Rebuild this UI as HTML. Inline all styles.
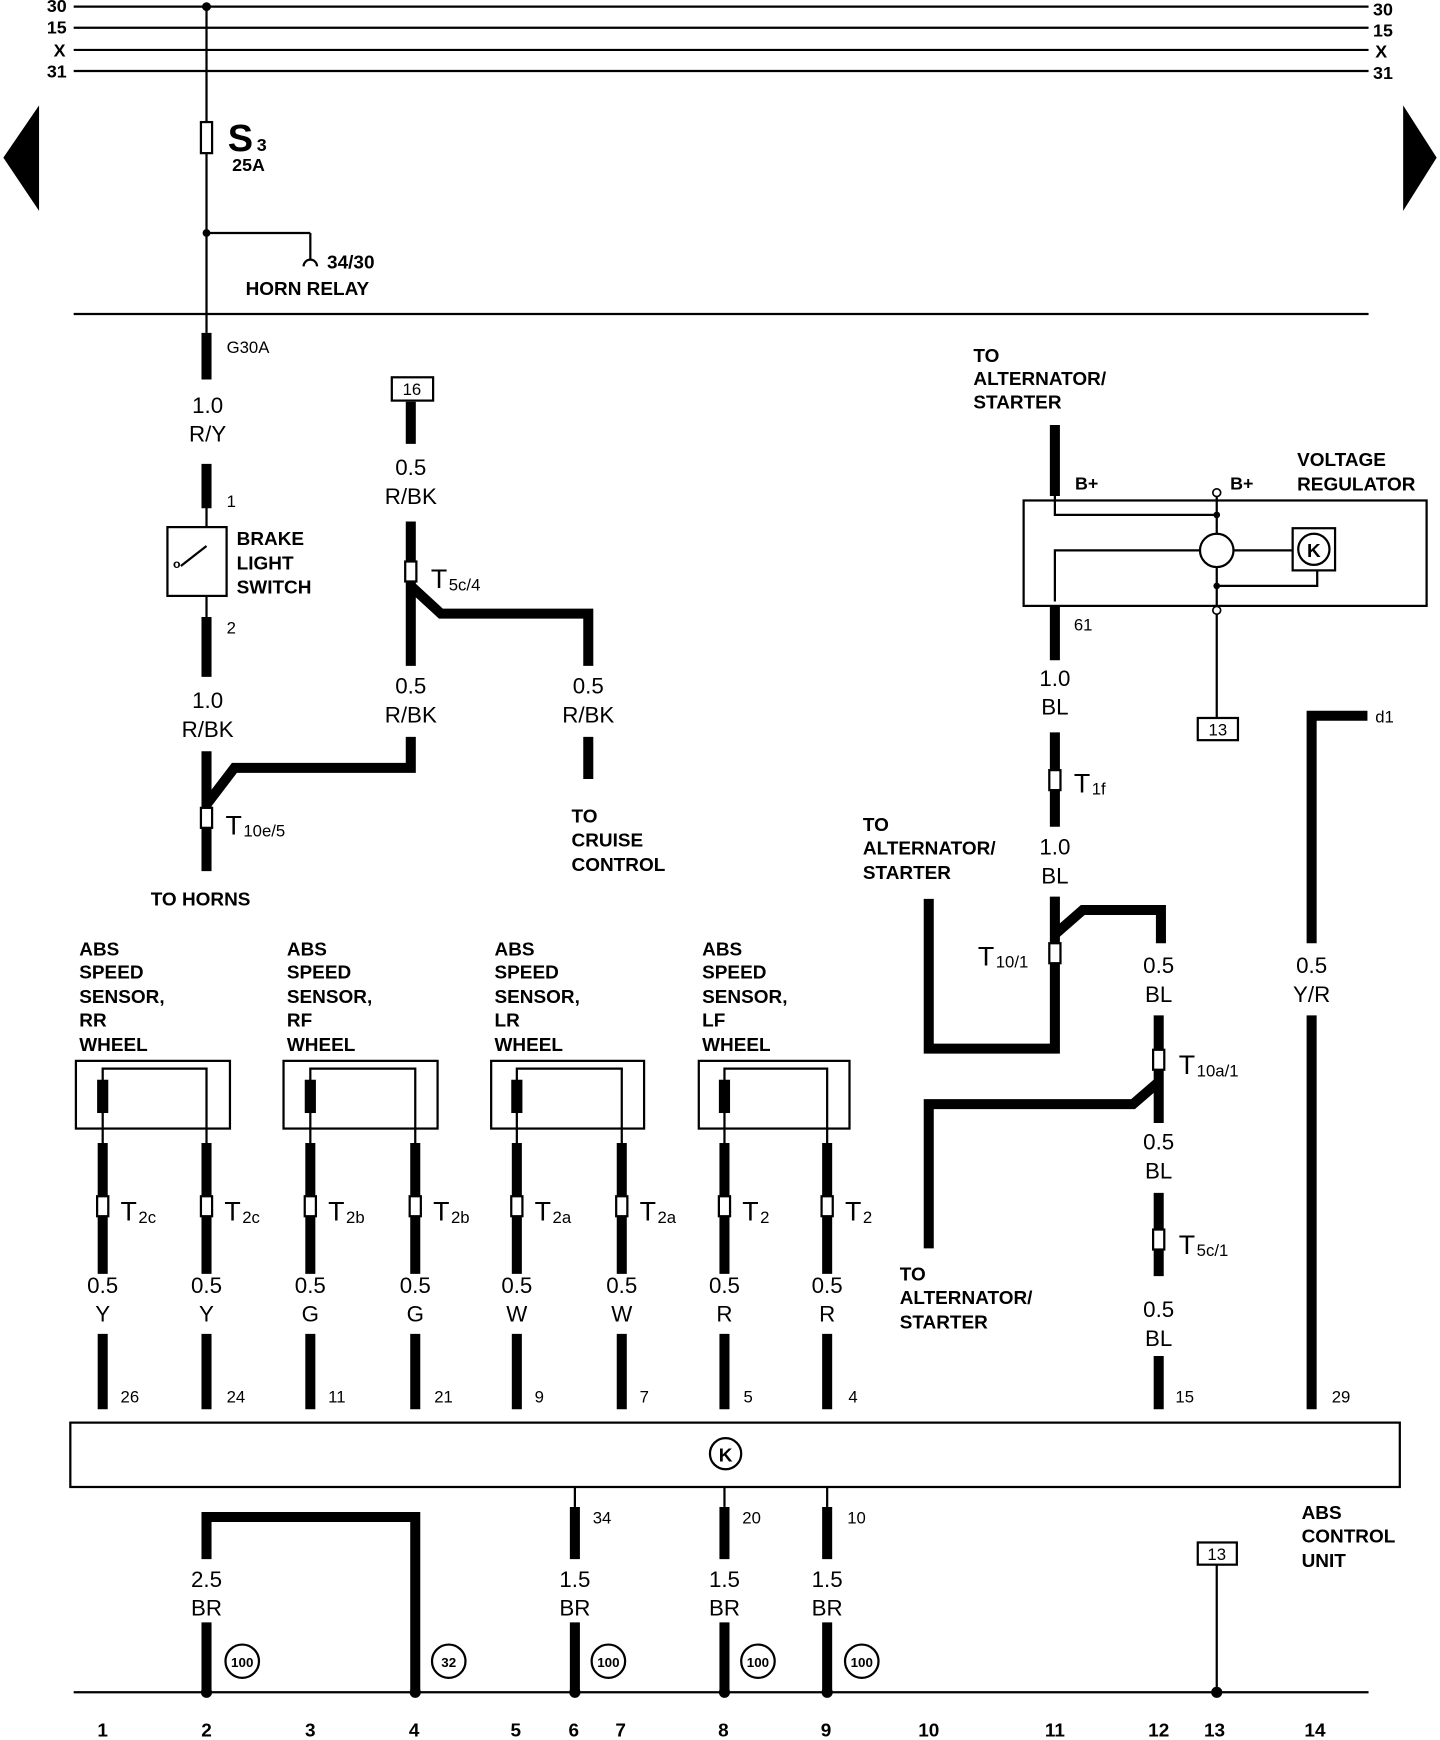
<!DOCTYPE html>
<html><head><meta charset="utf-8"><style>
html,body{margin:0;padding:0;background:#fff;}
svg{display:block;}
text{font-family:"Liberation Sans",sans-serif;fill:#000;}
.b{font-weight:bold;font-size:17px;}
.w{font-size:20px;text-anchor:middle;}
.s{font-size:16px;font-weight:bold;}
.t{font-size:24px;}
.ts{font-size:15px;}
.th{stroke:#000;stroke-width:9;fill:none;}
.tn{stroke:#000;stroke-width:2;fill:none;}
</style></head><body>
<svg width="1440" height="1740" viewBox="0 0 1290 1568" preserveAspectRatio="none" xmlns="http://www.w3.org/2000/svg">
<!-- bus lines -->
<g class="tn" stroke-width="3">
<line x1="66" y1="6" x2="1226" y2="6"/><line x1="66" y1="25" x2="1226" y2="25"/>
<line x1="66" y1="45" x2="1226" y2="45"/><line x1="66" y1="64" x2="1226" y2="64"/>
<line x1="66" y1="283" x2="1226" y2="283"/>
<line x1="66" y1="1525" x2="1226" y2="1525"/>
</g>
<g class="s"><text x="42" y="11">30</text><text x="42" y="30">15</text><text x="48" y="51">X</text><text x="42" y="70">31</text>
<text x="1230" y="14">30</text><text x="1230" y="33">15</text><text x="1232" y="52">X</text><text x="1230" y="71">31</text></g>
<polygon points="3,142 35,95 35,190"/><polygon points="1257,95 1257,190 1287,142"/>
<!-- main vertical -->
<g class="tn" stroke-width="2.5">
<line x1="185" y1="6" x2="185" y2="300"/>
<line x1="185" y1="210" x2="278" y2="210"/><line x1="278" y1="210" x2="278" y2="234"/>
<path d="M272,240 a6,6 0 0 1 12,0"/>
<line x1="185" y1="455" x2="185" y2="560"/>
</g>
<circle cx="185" cy="6" r="4"/><circle cx="185" cy="210" r="3.5"/>
<rect x="180" y="110" width="10" height="28" fill="#fff" stroke="#000" stroke-width="2"/>
<text x="204" y="136" style="font-size:34px;font-weight:bold">S</text><text x="230" y="136" class="s">3</text>
<text x="208" y="154" class="s">25A</text>
<text x="293" y="242" class="b">34/30</text><text x="220" y="266" class="b">HORN RELAY</text>
<!-- left wire -->
<g class="th"><line x1="185" y1="300" x2="185" y2="342"/><line x1="185" y1="418" x2="185" y2="458"/>
<line x1="185" y1="556" x2="185" y2="610"/><line x1="185" y1="677" x2="185" y2="785"/>
<polyline points="185,725 210,692 368,692 368,664"/></g>
<text x="203" y="318" class="ts">G30A</text>
<text x="186" y="372" class="w">1.0</text><text x="186" y="398" class="w">R/Y</text>
<text x="203" y="457" class="ts">1</text><text x="203" y="571" class="ts">2</text>
<rect x="150" y="475" width="53" height="62" fill="#fff" stroke="#000" stroke-width="2"/>
<line x1="162" y1="510" x2="185" y2="492" stroke="#000" stroke-width="2"/>
<text x="155" y="512" style="font-size:11px;font-weight:bold">o</text>
<text x="212" y="491" class="b">BRAKE</text><text x="212" y="513" class="b">LIGHT</text><text x="212" y="535" class="b">SWITCH</text>
<text x="186" y="638" class="w">1.0</text><text x="186" y="664" class="w">R/BK</text>
<rect x="180" y="728" width="10" height="18" fill="#fff" stroke="#000" stroke-width="2"/>
<text x="202" y="752" class="t">T</text><text x="218" y="754" class="ts">10e/5</text>
<text x="135" y="816" class="b">TO HORNS</text>
<!-- 16 branch -->
<rect x="351" y="340" width="37" height="21" fill="#fff" stroke="#000" stroke-width="2"/><text x="369" y="356" class="ts" text-anchor="middle">16</text>
<g class="th"><line x1="368" y1="362" x2="368" y2="400"/><line x1="368" y1="470" x2="368" y2="600"/>
<polyline points="368,528 395,553 527,553 527,600"/>
<line x1="527" y1="664" x2="527" y2="702"/></g>
<text x="368" y="428" class="w">0.5</text><text x="368" y="454" class="w">R/BK</text>
<rect x="363" y="506" width="10" height="18" fill="#fff" stroke="#000" stroke-width="2"/>
<text x="386" y="530" class="t">T</text><text x="402" y="532" class="ts">5c/4</text>
<text x="368" y="625" class="w">0.5</text><text x="368" y="651" class="w">R/BK</text>
<text x="527" y="625" class="w">0.5</text><text x="527" y="651" class="w">R/BK</text>
<text x="512" y="741" class="b">TO</text><text x="512" y="763" class="b">CRUISE</text><text x="512" y="785" class="b">CONTROL</text>
<!-- voltage regulator -->
<text x="872" y="326" class="b">TO</text><text x="872" y="347" class="b">ALTERNATOR/</text><text x="872" y="368" class="b">STARTER</text>
<text x="1162" y="420" class="b">VOLTAGE</text><text x="1162" y="442" class="b">REGULATOR</text>
<rect x="917" y="451" width="361" height="95" fill="none" stroke="#000" stroke-width="2"/>
<g class="tn"><polyline points="945,447 945,464 1090,464"/><line x1="1090" y1="447" x2="1090" y2="548"/>
<polyline points="945,542 945,496 1075,496"/><line x1="1105" y1="496" x2="1158" y2="496"/>
<polyline points="1090,528 1180,528 1180,515"/><line x1="1090" y1="548" x2="1090" y2="647"/></g>
<circle cx="1090" cy="444" r="3.5" fill="#fff" stroke="#000" stroke-width="1.5"/>
<circle cx="1090" cy="550" r="3.5" fill="#fff" stroke="#000" stroke-width="1.5"/>
<circle cx="1090" cy="464" r="3"/><circle cx="1090" cy="528" r="3"/>
<circle cx="1090" cy="496" r="15" fill="#fff" stroke="#000" stroke-width="2"/>
<rect x="1158" y="476" width="38" height="38" fill="#fff" stroke="#000" stroke-width="2"/>
<circle cx="1177" cy="495" r="14" fill="none" stroke="#000" stroke-width="2"/><text x="1177" y="502" class="b" text-anchor="middle">K</text>
<text x="963" y="441" class="s">B+</text><text x="1102" y="441" class="s">B+</text>
<rect x="1073" y="647" width="36" height="20" fill="#fff" stroke="#000" stroke-width="2"/><text x="1091" y="663" class="ts" text-anchor="middle">13</text>
<g class="th"><line x1="945" y1="383" x2="945" y2="447"/><line x1="945" y1="546" x2="945" y2="595"/>
<line x1="945" y1="660" x2="945" y2="745"/>
<polyline points="945,808 945,945 832,945 832,810"/>
<polyline points="945,842 970,820 1040,820 1040,850"/>
<line x1="1038" y1="915" x2="1038" y2="1012"/>
<polyline points="1038,975 1015,995 832,995 832,1125"/>
<line x1="1038" y1="1075" x2="1038" y2="1150"/><line x1="1038" y1="1222" x2="1038" y2="1270"/>
<polyline points="1225,645 1175,645 1175,850"/><line x1="1175" y1="915" x2="1175" y2="1270"/></g>
<text x="962" y="568" class="ts">61</text>
<text x="945" y="618" class="w">1.0</text><text x="945" y="644" class="w">BL</text>
<rect x="940" y="694" width="10" height="18" fill="#fff" stroke="#000" stroke-width="2"/>
<text x="962" y="714" class="t">T</text><text x="978" y="716" class="ts">1f</text>
<text x="945" y="770" class="w">1.0</text><text x="945" y="796" class="w">BL</text>
<text x="773" y="749" class="b">TO</text><text x="773" y="770" class="b">ALTERNATOR/</text><text x="773" y="792" class="b">STARTER</text>
<rect x="940" y="850" width="10" height="18" fill="#fff" stroke="#000" stroke-width="2"/>
<text x="876" y="870" class="t">T</text><text x="892" y="872" class="ts">10/1</text>
<text x="1038" y="877" class="w">0.5</text><text x="1038" y="903" class="w">BL</text>
<rect x="1033" y="946" width="10" height="18" fill="#fff" stroke="#000" stroke-width="2"/>
<text x="1056" y="968" class="t">T</text><text x="1072" y="970" class="ts">10a/1</text>
<text x="1038" y="1036" class="w">0.5</text><text x="1038" y="1062" class="w">BL</text>
<rect x="1033" y="1108" width="10" height="18" fill="#fff" stroke="#000" stroke-width="2"/>
<text x="1056" y="1130" class="t">T</text><text x="1072" y="1132" class="ts">5c/1</text>
<text x="1038" y="1187" class="w">0.5</text><text x="1038" y="1213" class="w">BL</text>
<text x="806" y="1154" class="b">TO</text><text x="806" y="1175" class="b">ALTERNATOR/</text><text x="806" y="1197" class="b">STARTER</text>
<text x="1232" y="651" class="ts">d1</text>
<text x="1175" y="877" class="w">0.5</text><text x="1175" y="903" class="w">Y/R</text>
<text x="1053" y="1264" class="ts">15</text><text x="1193" y="1264" class="ts">29</text>
<!-- ABS sensors -->
<g class="b">
<text x="71" y="861">ABS</text><text x="71" y="882">SPEED</text><text x="71" y="904">SENSOR,</text><text x="71" y="925">RR</text><text x="71" y="947">WHEEL</text>
<text x="257" y="861">ABS</text><text x="257" y="882">SPEED</text><text x="257" y="904">SENSOR,</text><text x="257" y="925">RF</text><text x="257" y="947">WHEEL</text>
<text x="443" y="861">ABS</text><text x="443" y="882">SPEED</text><text x="443" y="904">SENSOR,</text><text x="443" y="925">LR</text><text x="443" y="947">WHEEL</text>
<text x="629" y="861">ABS</text><text x="629" y="882">SPEED</text><text x="629" y="904">SENSOR,</text><text x="629" y="925">LF</text><text x="629" y="947">WHEEL</text>
</g>
<g fill="none" stroke="#000" stroke-width="2">
<rect x="68" y="956" width="138" height="61"/><rect x="254" y="956" width="138" height="61"/>
<rect x="440" y="956" width="137" height="61"/><rect x="626" y="956" width="135" height="61"/>
<polyline points="92,1030 92,963 185,963 185,1030"/><polyline points="278,1030 278,963 372,963 372,1030"/>
<polyline points="463,1030 463,963 557,963 557,1030"/><polyline points="649,1030 649,963 741,963 741,1030"/>
</g>
<g><rect x="87" y="973" width="10" height="30"/><rect x="273" y="973" width="10" height="30"/><rect x="458" y="973" width="10" height="30"/><rect x="644" y="973" width="10" height="30"/></g>
<g class="th">
<line x1="92" y1="1030" x2="92" y2="1148"/><line x1="185" y1="1030" x2="185" y2="1148"/>
<line x1="278" y1="1030" x2="278" y2="1148"/><line x1="372" y1="1030" x2="372" y2="1148"/>
<line x1="463" y1="1030" x2="463" y2="1148"/><line x1="557" y1="1030" x2="557" y2="1148"/>
<line x1="649" y1="1030" x2="649" y2="1148"/><line x1="741" y1="1030" x2="741" y2="1148"/>
<line x1="92" y1="1202" x2="92" y2="1270"/><line x1="185" y1="1202" x2="185" y2="1270"/>
<line x1="278" y1="1202" x2="278" y2="1270"/><line x1="372" y1="1202" x2="372" y2="1270"/>
<line x1="463" y1="1202" x2="463" y2="1270"/><line x1="557" y1="1202" x2="557" y2="1270"/>
<line x1="649" y1="1202" x2="649" y2="1270"/><line x1="741" y1="1202" x2="741" y2="1270"/>
</g>
<g fill="#fff" stroke="#000" stroke-width="2">
<rect x="87" y="1078" width="10" height="18"/><rect x="180" y="1078" width="10" height="18"/>
<rect x="273" y="1078" width="10" height="18"/><rect x="367" y="1078" width="10" height="18"/>
<rect x="458" y="1078" width="10" height="18"/><rect x="552" y="1078" width="10" height="18"/>
<rect x="644" y="1078" width="10" height="18"/><rect x="736" y="1078" width="10" height="18"/>
</g>
<g><text x="108" y="1100" class="t">T</text><text x="124" y="1102" class="ts">2c</text>
<text x="201" y="1100" class="t">T</text><text x="217" y="1102" class="ts">2c</text>
<text x="294" y="1100" class="t">T</text><text x="310" y="1102" class="ts">2b</text>
<text x="388" y="1100" class="t">T</text><text x="404" y="1102" class="ts">2b</text>
<text x="479" y="1100" class="t">T</text><text x="495" y="1102" class="ts">2a</text>
<text x="573" y="1100" class="t">T</text><text x="589" y="1102" class="ts">2a</text>
<text x="665" y="1100" class="t">T</text><text x="681" y="1102" class="ts">2</text>
<text x="757" y="1100" class="t">T</text><text x="773" y="1102" class="ts">2</text></g>
<g class="w">
<text x="92" y="1165">0.5</text><text x="92" y="1191">Y</text><text x="185" y="1165">0.5</text><text x="185" y="1191">Y</text>
<text x="278" y="1165">0.5</text><text x="278" y="1191">G</text><text x="372" y="1165">0.5</text><text x="372" y="1191">G</text>
<text x="463" y="1165">0.5</text><text x="463" y="1191">W</text><text x="557" y="1165">0.5</text><text x="557" y="1191">W</text>
<text x="649" y="1165">0.5</text><text x="649" y="1191">R</text><text x="741" y="1165">0.5</text><text x="741" y="1191">R</text>
</g>
<g class="ts"><text x="108" y="1264">26</text><text x="203" y="1264">24</text><text x="294" y="1264">11</text><text x="389" y="1264">21</text>
<text x="479" y="1264">9</text><text x="573" y="1264">7</text><text x="666" y="1264">5</text><text x="760" y="1264">4</text></g>
<!-- control unit -->
<rect x="63" y="1282" width="1191" height="58" fill="#fff" stroke="#000" stroke-width="2"/>
<circle cx="650" cy="1310" r="14" fill="none" stroke="#000" stroke-width="2"/><text x="650" y="1317" class="b" text-anchor="middle">K</text>
<text x="1166" y="1369" class="b">ABS</text><text x="1166" y="1390" class="b">CONTROL</text><text x="1166" y="1412" class="b">UNIT</text>
<g class="tn"><line x1="515" y1="1340" x2="515" y2="1358"/><line x1="649" y1="1340" x2="649" y2="1358"/><line x1="741" y1="1340" x2="741" y2="1358"/>
<line x1="1090" y1="1410" x2="1090" y2="1525"/></g>
<g class="th">
<line x1="515" y1="1358" x2="515" y2="1405"/><line x1="649" y1="1358" x2="649" y2="1405"/><line x1="741" y1="1358" x2="741" y2="1405"/>
<line x1="515" y1="1462" x2="515" y2="1525"/><line x1="649" y1="1462" x2="649" y2="1525"/><line x1="741" y1="1462" x2="741" y2="1525"/>
<polyline points="185,1405 185,1367 372,1367 372,1525"/><line x1="185" y1="1462" x2="185" y2="1525"/>
</g>
<g class="ts"><text x="531" y="1373">34</text><text x="665" y="1373">20</text><text x="759" y="1373">10</text></g>
<g class="w"><text x="185" y="1430">2.5</text><text x="185" y="1456">BR</text>
<text x="515" y="1430">1.5</text><text x="515" y="1456">BR</text>
<text x="649" y="1430">1.5</text><text x="649" y="1456">BR</text>
<text x="741" y="1430">1.5</text><text x="741" y="1456">BR</text></g>
<rect x="1073" y="1390" width="35" height="20" fill="#fff" stroke="#000" stroke-width="2"/><text x="1090" y="1406" class="ts" text-anchor="middle">13</text>
<g fill="#fff" stroke="#000" stroke-width="2">
<circle cx="217" cy="1497" r="15"/><circle cx="402" cy="1497" r="15"/><circle cx="545" cy="1497" r="15"/><circle cx="679" cy="1497" r="15"/><circle cx="772" cy="1497" r="15"/></g>
<g style="font-size:12px;font-weight:bold" text-anchor="middle">
<text x="217" y="1502">100</text><text x="402" y="1502">32</text><text x="545" y="1502">100</text><text x="679" y="1502">100</text><text x="772" y="1502">100</text></g>
<g><circle cx="185" cy="1525" r="5"/><circle cx="372" cy="1525" r="5"/><circle cx="515" cy="1525" r="5"/><circle cx="649" cy="1525" r="5"/><circle cx="741" cy="1525" r="5"/><circle cx="1090" cy="1525" r="5"/></g>
<g class="s" text-anchor="middle" style="font-size:17px">
<text x="92" y="1565">1</text><text x="185" y="1565">2</text><text x="278" y="1565">3</text><text x="371" y="1565">4</text>
<text x="462" y="1565">5</text><text x="514" y="1565">6</text><text x="556" y="1565">7</text><text x="648" y="1565">8</text>
<text x="740" y="1565">9</text><text x="832" y="1565">10</text><text x="945" y="1565">11</text><text x="1038" y="1565">12</text>
<text x="1088" y="1565">13</text><text x="1178" y="1565">14</text></g>
</svg>
</body></html>
